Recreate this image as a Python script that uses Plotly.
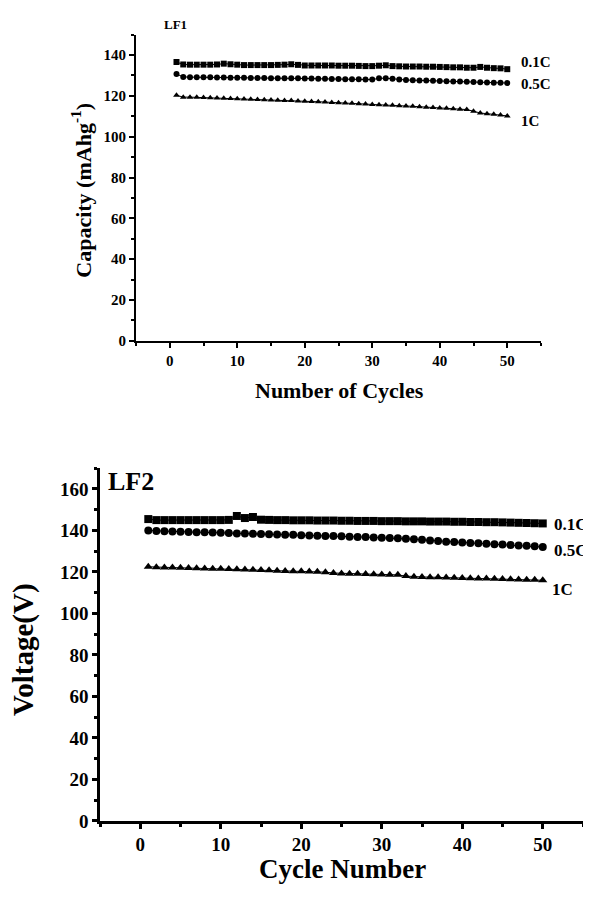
import plotly.graph_objects as go

cycles = list(range(1, 51))

# LF1 capacity (mAh/g)
lf1_01c = [136.6, 135.4, 135.3, 135.3, 135.3, 135.3, 135.4, 135.8, 135.5, 135.3,
           135.1, 135.1, 135.1, 135.1, 135.1, 135.2, 135.3, 135.5, 135.2, 134.9,
           134.9, 134.9, 134.9, 134.9, 134.8, 134.8, 134.8, 134.7, 134.6, 134.6,
           134.8, 135.0, 134.6, 134.5, 134.4, 134.4, 134.4, 134.3, 134.3, 134.2,
           134.1, 134.0, 134.0, 133.8, 133.8, 134.2, 133.8, 133.6, 133.5, 133.1]
lf1_05c = [130.7, 129.3, 129.2, 129.2, 129.1, 129.1, 129.0, 129.0, 128.9, 128.9,
           128.9, 128.8, 128.8, 128.8, 128.7, 128.7, 128.7, 128.6, 128.6, 128.5,
           128.5, 128.4, 128.4, 128.3, 128.3, 128.2, 128.2, 128.1, 128.0, 128.0,
           128.6, 128.7, 128.4, 128.0, 127.8, 127.7, 127.6, 127.5, 127.4, 127.3,
           127.2, 127.1, 127.0, 126.9, 126.8, 126.7, 126.6, 126.5, 126.4, 126.3]
lf1_1c = [120.3, 119.4, 119.4, 119.3, 119.2, 119.1, 119.0, 118.8, 118.7, 118.6,
          118.5, 118.4, 118.2, 118.1, 118.0, 117.9, 117.8, 117.7, 117.5, 117.4,
          117.2, 117.1, 117.0, 116.8, 116.7, 116.5, 116.4, 116.2, 116.0, 115.8,
          115.7, 115.5, 115.4, 115.2, 115.0, 114.9, 114.7, 114.5, 114.3, 114.1,
          113.9, 113.7, 113.5, 113.3, 112.5, 111.6, 111.3, 111.0, 110.7, 110.2]

# LF2 (values on "Voltage(V)" axis)
lf2_01c = [145.5, 145.0, 145.0, 145.0, 145.0, 145.0, 145.0, 145.0, 145.0, 145.0,
           145.1, 147.0, 146.0, 146.5, 145.2, 145.1, 145.0, 145.0, 144.9, 144.9,
           144.9, 144.8, 144.8, 144.8, 144.7, 144.7, 144.6, 144.6, 144.6, 144.5,
           144.5, 144.5, 144.4, 144.4, 144.4, 144.3, 144.3, 144.3, 144.2, 144.2,
           144.1, 144.1, 144.0, 144.0, 143.9, 143.8, 143.7, 143.6, 143.5, 143.4]
lf2_05c = [140.0, 139.8, 139.6, 139.5, 139.4, 139.3, 139.2, 139.1, 139.0, 138.9,
           138.8, 138.6, 138.5, 138.4, 138.3, 138.2, 138.1, 138.0, 137.9, 137.7,
           137.6, 137.5, 137.4, 137.3, 137.2, 137.0, 136.9, 136.8, 136.6, 136.5,
           136.4, 136.2, 136.0, 135.8, 135.5, 135.2, 134.9, 134.6, 134.4, 134.2,
           134.0, 133.8, 133.6, 133.4, 133.2, 133.0, 132.8, 132.6, 132.4, 132.0]
lf2_1c = [122.5, 122.3, 122.2, 122.1, 122.0, 121.9, 121.8, 121.7, 121.6, 121.5,
          121.4, 121.3, 121.2, 121.1, 121.0, 120.8, 120.6, 120.5, 120.4, 120.3,
          120.2, 120.1, 119.9, 119.5, 119.3, 119.2, 119.1, 119.0, 118.9, 118.8,
          118.7, 118.6, 118.0, 117.7, 117.6, 117.5, 117.4, 117.3, 117.2, 117.1,
          117.0, 116.9, 116.8, 116.7, 116.6, 116.5, 116.4, 116.3, 116.2, 116.0]

rate_labels = ["0.1C", "0.5C", "1C"]

FONT = "Liberation Serif"
OFF = 8                      # default page margin of the html body
W, H = 591 - OFF, 901 - OFF  # figure size so that it fills the window

fig = go.Figure()

top_series = [lf1_01c, lf1_05c, lf1_1c]
bot_series = [lf2_01c, lf2_05c, lf2_1c]
symbols = ["square", "circle", "triangle-up"]

for vals, sym, name in zip(top_series, symbols, rate_labels):
    fig.add_trace(go.Scatter(x=cycles, y=vals, mode="lines+markers", name=name,
                             xaxis="x", yaxis="y",
                             line=dict(color="black", width=1),
                             marker=dict(symbol=sym, size=6, color="black"),
                             showlegend=False, cliponaxis=False))

for vals, sym, name in zip(bot_series, symbols, rate_labels):
    fig.add_trace(go.Scatter(x=cycles, y=vals, mode="lines+markers", name=name,
                             xaxis="x2", yaxis="y2",
                             line=dict(color="black", width=1),
                             marker=dict(symbol=sym, size=8, color="black"),
                             showlegend=False, cliponaxis=False))


def px_x(px):
    return (px - OFF) / W


def px_y(py):
    return 1 - (py - OFF) / H


def axis_common(fs, lw):
    return dict(showgrid=False, zeroline=False, showline=True, linecolor="black",
                linewidth=lw, ticks="outside", tickcolor="black", tickwidth=lw,
                ticklen=5,
                tickfont=dict(family=FONT, size=fs, color="black", weight="bold"),
                minor=dict(ticks="outside", ticklen=3, tickcolor="black",
                           tickwidth=lw))


xa = axis_common(15, 2)
xa.update(domain=[px_x(136), px_x(541)], range=[-5, 55], dtick=10, tick0=0,
          anchor="y")
xa["minor"]["dtick"] = 5
ya = axis_common(15, 2)
ya.update(domain=[px_y(345), px_y(35)], range=[0, 150], dtick=20, tick0=0,
          anchor="x")
ya["minor"]["dtick"] = 10

xa2 = axis_common(19, 2.5)
xa2.update(domain=[px_x(100), px_x(583)], range=[-5, 55], dtick=10, tick0=0,
           anchor="y2")
xa2["minor"]["dtick"] = 5
ya2 = axis_common(19, 2.5)
ya2.update(domain=[px_y(831), px_y(474)], range=[0, 170], dtick=20, tick0=0,
           anchor="x2")
ya2["minor"]["dtick"] = 10

annotations = []


def ann(text, x, y, size, xref="paper", yref="paper", xanchor="center",
        yanchor="middle", angle=0):
    annotations.append(dict(text=text, x=x, y=y, xref=xref, yref=yref,
                            xanchor=xanchor, yanchor=yanchor, textangle=angle,
                            showarrow=False,
                            font=dict(family=FONT, size=size, color="black",
                                      weight="bold")))


# top chart texts
ann("LF1", px_x(162), px_y(25), 13, xanchor="left")
ann("Capacity (mAhg<sup>-1</sup>)", px_x(81), px_y(193), 22, angle=-90)
ann("Number of Cycles", px_x(339), px_y(395), 22)
top_label_y = [136.6, 126.0, 107.6]
for lab, yv in zip(rate_labels, top_label_y):
    ann(lab, 51.8, yv, 15, xref="x", yref="y", xanchor="left")

# bottom chart texts
ann("LF2", px_x(106), px_y(487), 26, xanchor="left")
ann("Voltage(V)", px_x(24), px_y(658), 29, angle=-90)
ann("Cycle Number", px_x(342), px_y(880), 27)
bot_label_x = [51.1, 51.1, 50.9]
bot_label_y = [142.9, 130.5, 111.4]
for lab, xv, yv in zip(rate_labels, bot_label_x, bot_label_y):
    ann(lab, xv, yv, 17, xref="x2", yref="y2", xanchor="left")

fig.update_layout(width=W, height=H, margin=dict(l=0, r=0, t=0, b=0),
                  paper_bgcolor="white", plot_bgcolor="white",
                  xaxis=xa, yaxis=ya, xaxis2=xa2, yaxis2=ya2,
                  annotations=annotations, showlegend=False)

fig.write_html("out.html")
